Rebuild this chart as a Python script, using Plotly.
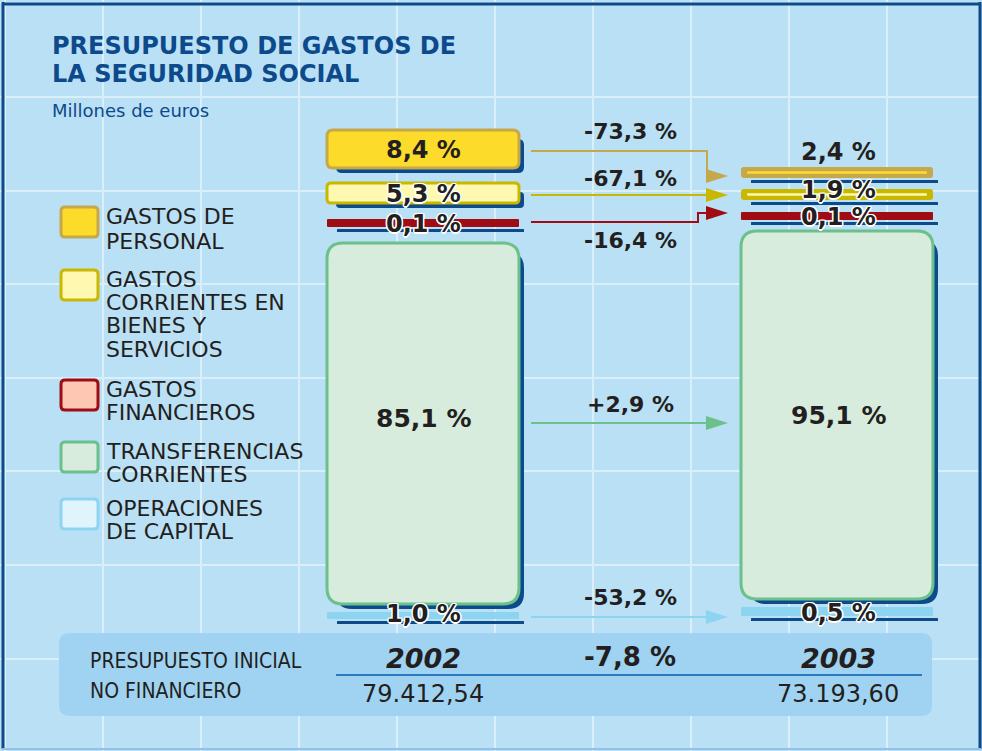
import plotly.graph_objects as go

# ---------------- data ----------------
categories = [
    ["GASTOS DE", "PERSONAL"],
    ["GASTOS", "CORRIENTES EN", "BIENES Y", "SERVICIOS"],
    ["GASTOS", "FINANCIEROS"],
    ["TRANSFERENCIAS", "CORRIENTES"],
    ["OPERACIONES", "DE CAPITAL"],
]
share_2002 = [8.4, 5.3, 0.1, 85.1, 1.0]
share_2003 = [2.4, 1.9, 0.1, 95.1, 0.5]
change_pct = [-73.3, -67.1, -16.4, 2.9, -53.2]
years = ["2002", "2003"]
budget_total = [79412.54, 73193.60]
budget_change = -7.8

# ---------------- styles / layout ----------------
W, H = 982, 751
BG = "#bae0f5"
GRID = "#dbeffb"
NAVY = "#0d4a8b"
TXT = "#231f20"
FILL = ["#fddb2b", "#fff8b0", "#fdc7b4", "#d7ecdc", "#e0f4fb"]
EDGE = ["#c4a84a", "#c9b800", "#a00c13", "#6cc08b", "#8dd4f1"]
BAR_FILL_2002 = ["#fddb2b", "#fff8b0", "#a00c13", "#d7ecdc", "#8dd4f1"]
BAR_FILL_2003 = ["#c4a84a", "#c9b800", "#a00c13", "#d7ecdc", "#8dd4f1"]
INNER_2003 = ["#fddb2b", "#fff8b0", None, None, None]

col_x = [(327, 519), (741, 933)]
col_c = [423, 838]
# stylised (non proportional) vertical bands: (top, bottom, kind)
bands = [
    [(130, 168, "box"), (183, 203, "box"), (219, 227, "bar"), (243, 604, "box"), (612, 619, "bar")],
    [(167, 178, "bar"), (189, 200, "bar"), (212, 220, "bar"), (231, 599, "box"), (607, 616, "bar")],
]
radius = [[6, 4, 1, 16, 1], [3, 3, 1, 16, 1]]
label_y = [[150, 194, 224, 418, 614], [152, 190, 217, 415, 613]]
label_size = [[24, 24, 24, 25, 24], [24, 24, 24, 25, 24]]
outlined = [[False, True, True, False, True], [False, True, True, False, True]]
arrow_y0 = [151, 195, 222, 423, 617]
arrow_y1 = [176, 195, 213, 423, 617]
arrow_bend = [707, None, 698, None, None]
change_y = [131, 178, 240, 404, 597]
legend_line_y = [[216, 241], [279, 302, 325, 349], [389, 412], [451, 474], [508, 531]]

PCT = "DejaVu Sans"
OUTLINE = ("1px 1px 0 #fff, -1px -1px 0 #fff, 1px -1px 0 #fff, -1px 1px 0 #fff, "
           "0 1.5px 0 #fff, 0 -1.5px 0 #fff, 1.5px 0 0 #fff, -1.5px 0 0 #fff")


def fmt_pct(v, sign=False):
    s = f"{abs(v):.1f}".replace(".", ",") + " %"
    if v < 0:
        return "-" + s
    return ("+" + s) if sign else s


def fmt_num(v):
    return f"{v:,.2f}".replace(",", "X").replace(".", ",").replace("X", ".")


def rr(x0, y0, x1, y1, r):
    r = min(r, (x1 - x0) / 2, (y1 - y0) / 2)
    return (f"M{x0+r},{y0} L{x1-r},{y0} Q{x1},{y0} {x1},{y0+r} L{x1},{y1-r} "
            f"Q{x1},{y1} {x1-r},{y1} L{x0+r},{y1} Q{x0},{y1} {x0},{y1-r} "
            f"L{x0},{y0+r} Q{x0},{y0} {x0+r},{y0} Z")


shapes = []
ann = []


def path(p, fill, line=None, lw=0, layer="above"):
    shapes.append(dict(type="path", path=p, xref="x", yref="y", fillcolor=fill,
                       line=dict(color=line or fill, width=lw), layer=layer))


def text(x, y, s, size, color=TXT, family="DejaVu Sans", weight="normal", style="normal",
         xanchor="center", shadow=None, height=None):
    f = dict(size=size, color=color, family=family, weight=weight, style=style)
    if shadow:
        f["shadow"] = shadow
    a = dict(x=x, y=y, xref="x", yref="y", text=s, showarrow=False,
             xanchor=xanchor, yanchor="middle", font=f)
    if height:
        a["height"] = height
    ann.append(a)


# outer frame
shapes.append(dict(type="line", xref="x", yref="y", x0=3, x1=3, y0=2, y1=749, line=dict(color=NAVY, width=3)))
shapes.append(dict(type="line", xref="x", yref="y", x0=2, x1=981, y0=4, y1=4, line=dict(color=NAVY, width=3)))
shapes.append(dict(type="line", xref="x", yref="y", x0=980, x1=980, y0=2, y1=749, line=dict(color=NAVY, width=3)))
shapes.append(dict(type="line", xref="x", yref="y", x0=2, x1=981, y0=749, y1=749, line=dict(color="#8cc3e8", width=2)))

# title
text(50, 46, "PRESUPUESTO DE GASTOS DE", 24, NAVY, weight="bold", xanchor="left")
text(50, 74, "LA SEGURIDAD SOCIAL", 24, NAVY, weight="bold", xanchor="left")
text(50, 110, "Millones de euros", 18, NAVY, xanchor="left")

# legend
for i, lines in enumerate(categories):
    ly = legend_line_y[i]
    path(rr(61, ly[0] - 9, 98, ly[0] + 21, 4), FILL[i], EDGE[i], 3)
    for j, t in enumerate(lines):
        text(104, ly[j], t, 22, xanchor="left", height=22)

# columns
shares = [share_2002, share_2003]
for c in range(2):
    x0, x1 = col_x[c]
    for i in range(len(categories)):
        top, bot, kind = bands[c][i]
        if kind == "box":
            path(rr(x0 + 9, top + 9, x1 + 5, bot + 5, radius[c][i]), NAVY)
            path(rr(x0, top, x1, bot, radius[c][i]), FILL[i], EDGE[i], 3)
        else:
            path(rr(x0 + 10, bot + 2, x1 + 5, bot + 5, 0.5), NAVY)
            fillc = BAR_FILL_2002[i] if c == 0 else BAR_FILL_2003[i]
            path(rr(x0, top, x1, bot, radius[c][i]), fillc)
            if c == 1 and INNER_2003[i]:
                mid = (top + bot) / 2
                path(rr(x0 + 6, mid - 1.2, x1 - 6, mid + 1.2, 1), INNER_2003[i])
        text(col_c[c], label_y[c][i], fmt_pct(shares[c][i]), label_size[c][i], family=PCT,
             weight="bold", shadow=OUTLINE if outlined[c][i] else None)

# arrows + change labels
for i in range(len(categories)):
    xs, xe, tip = 531, 708, 728
    y0, y1 = arrow_y0[i], arrow_y1[i]
    if arrow_bend[i] is not None:
        p = f"M{xs},{y0} H{arrow_bend[i]} V{y1} H{xe}"
    else:
        p = f"M{xs},{y0} H{xe}"
    shapes.append(dict(type="path", path=p, xref="x", yref="y", line=dict(color=EDGE[i], width=2)))
    path(f"M{xe-2},{y1-7} L{tip},{y1} L{xe-2},{y1+7} Z", EDGE[i])
    text(630, change_y[i], fmt_pct(change_pct[i], sign=True), 22, family=PCT, weight="bold")

# bottom panel
path(rr(59, 633, 932, 716, 11), "#9fd3f1")
narrow = "Liberation Sans Narrow, DejaVu Sans Condensed, sans-serif"
text(88, 661, "PRESUPUESTO INICIAL", 21, family=narrow, xanchor="left")
text(88, 691, "NO FINANCIERO", 21, family=narrow, xanchor="left")
shapes.append(dict(type="line", xref="x", yref="y", x0=336, x1=922, y0=675, y1=675,
                   line=dict(color="#2a7ac0", width=2)))
for c in range(2):
    text(col_c[c], 658, years[c], 27, family=PCT, weight="bold", style="italic")
    text(col_c[c], 694, fmt_num(budget_total[c]), 24, family="DejaVu Sans")
text(630, 657, fmt_pct(budget_change, sign=True), 26, family=PCT, weight="bold")

fig = go.Figure()
fig.update_layout(
    width=W, height=H, margin=dict(l=0, r=0, t=0, b=0),
    paper_bgcolor="white", plot_bgcolor=BG, showlegend=False,
    xaxis=dict(range=[0, W], showgrid=True, gridcolor=GRID, gridwidth=2, tick0=103, dtick=98,
               showticklabels=False, zeroline=False, ticks="", fixedrange=True),
    yaxis=dict(range=[H, 0], showgrid=True, gridcolor=GRID, gridwidth=2, tick0=97, dtick=93.6,
               showticklabels=False, zeroline=False, ticks="", fixedrange=True),
    shapes=shapes, annotations=ann,
)
fig.write_html("out.html", config={"displayModeBar": False},
               post_script="document.body.style.margin='0px';document.body.style.overflow='hidden';")
